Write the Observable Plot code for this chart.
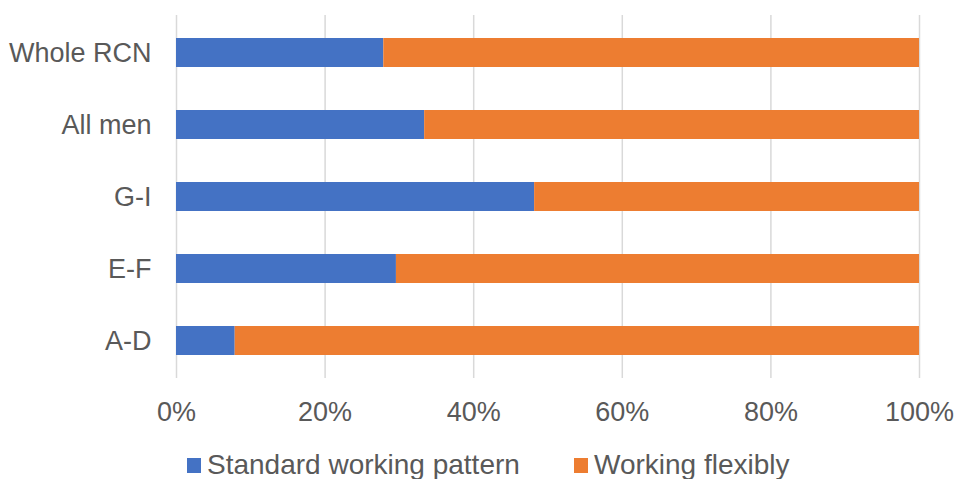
<!DOCTYPE html>
<html><head><meta charset="utf-8">
<script src="https://cdn.jsdelivr.net/npm/d3@7"></script>
<script src="https://cdn.jsdelivr.net/npm/@observablehq/plot@0.6"></script>
<style>
html,body{margin:0;padding:0;background:#fff;}
#chart svg{display:block;}
</style></head><body><div id="chart"></div>
<script>
const categories = ["Whole RCN", "All men", "G-I", "E-F", "A-D"];
const standard = [27.9, 33.4, 48.2, 29.6, 7.9];
const flexible = [72.1, 66.6, 51.8, 70.4, 92.1];
const seriesNames = ["Standard working pattern", "Working flexibly"];
const colors = ["#4472C4", "#ED7D31"];
const xTicks = [0, 20, 40, 60, 80, 100];

const rows = [];
categories.forEach((c, i) => {
  rows.push({category: c, series: seriesNames[0], value: standard[i]});
  rows.push({category: c, series: seriesNames[1], value: flexible[i]});
});

const font = "'Liberation Sans', Arial, sans-serif";
const textColor = "#595959";

const plot = Plot.plot({
  width: 956,
  height: 440,
  marginLeft: 176,
  marginRight: 37,
  marginTop: 15,
  marginBottom: 62,
  style: {fontFamily: font, color: textColor, background: "#fff"},
  x: {domain: [0, 100], label: null},
  y: {domain: categories, paddingInner: 0.6, paddingOuter: 0.3, label: null},
  color: {domain: seriesNames, range: colors},
  marks: [
    Plot.ruleX(xTicks, {stroke: "#d9d9d9", strokeWidth: 1.5}),
    Plot.barX(rows, Plot.stackX({x: "value", y: "category", fill: "series", order: seriesNames})),
    Plot.axisX({ticks: xTicks, tickFormat: d => d + "%", tickSize: 0, tickPadding: 23, fontSize: 27, label: null}),
    Plot.axisY({tickSize: 0, tickPadding: 25, fontSize: 27, label: null})
  ]
});
document.getElementById("chart").appendChild(plot);

// legend below the chart
const legend = d3.select("#chart").append("svg")
  .attr("width", 956).attr("height", 39)
  .style("display", "block")
  .style("font-family", font);
const legendX = [187, 574];
seriesNames.forEach((name, i) => {
  const g = legend.append("g");
  g.append("rect").attr("x", legendX[i]).attr("y", 18).attr("width", 14).attr("height", 15).attr("fill", colors[i]);
  g.append("text")
    .attr("x", legendX[i] + 20).attr("y", 34)
    .attr("font-size", 28).attr("fill", textColor)
    .text(name);
});
</script></body></html>
